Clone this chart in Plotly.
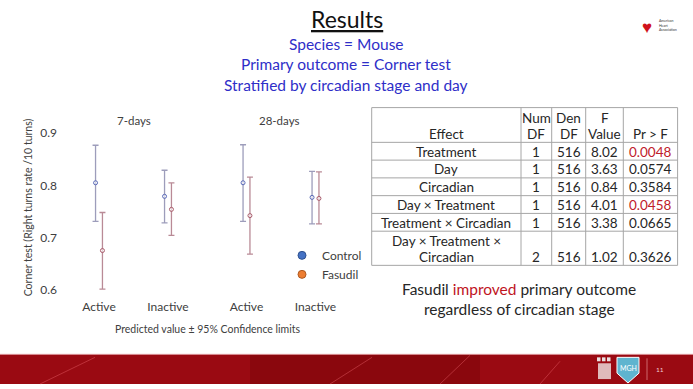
import plotly.graph_objects as go

# ---------------- data ----------------
circadian = ["Active", "Inactive"]
days = ["7-days", "28-days"]

ctrl_mean_7d = [0.805, 0.779]
ctrl_low_7d = [0.731, 0.728]
ctrl_high_7d = [0.877, 0.829]
fas_mean_7d = [0.675, 0.754]
fas_low_7d = [0.601, 0.704]
fas_high_7d = [0.748, 0.805]

ctrl_mean_28d = [0.805, 0.777]
ctrl_low_28d = [0.731, 0.726]
ctrl_high_28d = [0.878, 0.827]
fas_mean_28d = [0.742, 0.775]
fas_low_28d = [0.668, 0.726]
fas_high_28d = [0.816, 0.826]

y_ticks = [0.6, 0.7, 0.8, 0.9]

effects = ["Treatment", "Day", "Circadian", "Day × Treatment",
           "Treatment × Circadian", "Day × Treatment ×<br>Circadian"]
num_df = [1, 1, 1, 1, 1, 2]
den_df = [516, 516, 516, 516, 516, 516]
f_value = ["8.02", "3.63", "0.84", "4.01", "3.38", "1.02"]
p_value = ["0.0048", "0.0574", "0.3584", "0.0458", "0.0665", "0.3626"]
header_labels = ["Effect", "Num<br>DF", "Den<br>DF", "F<br>Value", "Pr > F"]

# ---------------- helpers ----------------
W, H = 693, 389
FONT = "Lato"
def px(x):
    return x / W
def py(y):
    return 1 - y / H

fig = go.Figure()

ctrl_bar = "#9d9dbb"
fas_bar = "#b98a96"
ctrl_pt = "#5a6ab8"
fas_pt = "#a85a6a"

groups = [
    ("x", ctrl_mean_7d, ctrl_low_7d, ctrl_high_7d, fas_mean_7d, fas_low_7d, fas_high_7d),
    ("x2", ctrl_mean_28d, ctrl_low_28d, ctrl_high_28d, fas_mean_28d, fas_low_28d, fas_high_28d),
]
for xa, cm, cl, ch, fm, fl, fh in groups:
    for name, m, lo, hi, bc, pc in [("Control", cm, cl, ch, ctrl_bar, ctrl_pt),
                                    ("Fasudil", fm, fl, fh, fas_bar, fas_pt)]:
        fig.add_trace(go.Scatter(
            x=circadian, y=m, mode="markers", xaxis=xa, yaxis="y",
            offsetgroup=name, name=name, showlegend=False,
            marker=dict(size=4, color="rgba(255,255,255,0.6)", line=dict(color=pc, width=1)),
            error_y=dict(type="data", symmetric=False,
                         array=[h - v for h, v in zip(hi, m)],
                         arrayminus=[v - l for v, l in zip(m, lo)],
                         color=bc, thickness=1.3, width=3),
        ))

# legend entries (on an invisible helper axis so they don't affect grouping)
for name, col, edge in [("Control", "#4472C4", "#2F528F"), ("Fasudil", "#ED7D31", "#AE5A21")]:
    fig.add_trace(go.Scatter(x=[None], y=[None], mode="markers", name=name,
                             xaxis="x3", yaxis="y3",
                             marker=dict(size=8, color=col, line=dict(color=edge, width=1))))

# ---------------- layout ----------------
y_top, y_bot = 124.4, 296.0
y_hi = 0.9 - (y_top - 135) / 528
y_lo = 0.9 - (y_bot - 135) / 528
tickfont = dict(family=FONT, size=12, color="#404040")
xcommon = dict(type="category", anchor="y", showgrid=False, zeroline=False, showline=False,
               ticks="outside", ticklen=3, tickcolor="rgba(0,0,0,0)",
               tickfont=tickfont, range=[-0.5, 1.5])
fig.update_layout(
    width=W, height=H, margin=dict(l=0, r=0, t=0, b=0),
    paper_bgcolor="white", plot_bgcolor="rgba(0,0,0,0)",
    scattermode="group", scattergap=0.8,
    font=dict(family=FONT, color="#404040"),
    xaxis=dict(domain=[px(64.5), px(202.5)], **xcommon),
    xaxis2=dict(domain=[px(212), px(350)], **xcommon),
    yaxis=dict(domain=[py(y_bot), py(y_top)], range=[y_lo, y_hi], anchor="x",
               showgrid=False, zeroline=False, showline=False,
               ticks="outside", ticklen=4, tickcolor="rgba(0,0,0,0)",
               tickvals=y_ticks, tickformat=".1f", tickfont=tickfont,
               title=dict(text="Corner test (Right turns rate /10 turns)",
                          font=dict(family=FONT, size=10.5, color="#404040"),
                          standoff=5)),
    xaxis3=dict(domain=[0, 0.01], visible=False, anchor="y3"),
    yaxis3=dict(domain=[0, 0.01], visible=False, anchor="x3"),
    showlegend=True,
    legend=dict(x=px(282), y=py(244), xanchor="left", yanchor="top",
                font=dict(family=FONT, size=12, color="#404040"),
                bgcolor="rgba(0,0,0,0)", itemwidth=30, tracegroupgap=0),
)

ann = []
shapes = []
def text(x, y, s, size, color="#262626", **kw):
    ann.append(dict(x=px(x), y=py(y), xref="paper", yref="paper", text=s,
                    showarrow=False, font=dict(family=FONT, size=size, color=color),
                    xanchor=kw.pop("xanchor", "center"), yanchor=kw.pop("yanchor", "middle"), **kw))
def hline(x0, x1, y, color="#a6a6a6", width=1):
    shapes.append(dict(type="line", xref="paper", yref="paper", x0=px(x0), x1=px(x1),
                       y0=py(y), y1=py(y), line=dict(color=color, width=width)))
def vline(x, y0, y1, color="#a6a6a6", width=1):
    shapes.append(dict(type="line", xref="paper", yref="paper", x0=px(x), x1=px(x),
                       y0=py(y0), y1=py(y1), line=dict(color=color, width=width)))

# ---------------- table (drawn from the arrays) ----------------
col_w = [149.3, 30.7, 34, 37.6, 54.3]
tab_x0, tab_y0 = 371.7, 109
line_h = 16.6
row_h1 = 18.0
col_x = [tab_x0]
for w in col_w:
    col_x.append(col_x[-1] + w)
n_lines = [e.count("<br>") + 1 for e in effects]
row_heights = [2 * line_h + 2] + [row_h1 + (n - 1) * line_h for n in n_lines]
row_y = [tab_y0]
for h in row_heights:
    row_y.append(row_y[-1] + h)
TF = 13.5
TC = "#262626"
# header (bottom aligned)
for j, lab in enumerate(header_labels):
    cx = (col_x[j] + col_x[j + 1]) / 2
    lines = lab.split("<br>")
    for k, ln in enumerate(reversed(lines)):
        text(cx, row_y[1] - row_h1 / 2 - k * line_h + 0.5, ln, TF, TC)
# body
columns = [effects, [str(v) for v in num_df], [str(v) for v in den_df], f_value, p_value]
for i in range(len(effects)):
    bot = row_y[i + 2]
    for j, col in enumerate(columns):
        cx = (col_x[j] + col_x[j + 1]) / 2
        color = TC
        if j == 4 and float(p_value[i]) < 0.05:
            color = "#C0202A"
        lines = col[i].split("<br>")
        for k, ln in enumerate(reversed(lines)):
            text(cx, bot - row_h1 / 2 - k * line_h + 0.5, ln, TF, color)
# grid lines
for y in row_y:
    hline(col_x[0], col_x[-1], y)
for x in col_x:
    vline(x, row_y[0], row_y[-1])

# ---------------- other texts ----------------
text(133.5, 122, days[0], 11.5, "#404040")
text(279, 122, days[1], 11.5, "#404040")
text(208, 333, "Predicted value ± 95% Confidence limits", 10.5, "#404040")

blue = "#2E2EC8"
text(347, 19, "<u>Results</u>", 23, "#111111")
text(346, 45, "Species = Mouse", 15.5, blue)
text(346, 65, "Primary outcome = Corner test", 15.5, blue)
text(346, 86, "Stratified by circadian stage and day", 15.5, blue)

text(519, 293, "Fasudil <span style='color:#C0141E'>improved</span> primary outcome", 15.5, TC)
text(519, 313, "regardless of circadian stage", 15.5, TC)

# AHA logo
text(647, 27, "♥", 17, "#D0121C")
text(657, 26, "American<br>Heart<br>Association", 3.5, "#333333", xanchor="left", align="left")

# footer
text(660, 374, "11", 6.5, "#f0d0d0")
text(628, 373, "MGH", 7, "white")

shapes.insert(0, dict(type="rect", xref="paper", yref="paper", x0=0, x1=1, y0=0, y1=py(359),
                      fillcolor="#9A0A12", line=dict(width=0), layer="below"))
shapes.insert(1, dict(type="rect", xref="paper", yref="paper", x0=px(250), x1=px(480), y0=0, y1=py(359),
                      fillcolor="rgba(90,0,0,0.25)", line=dict(width=0), layer="below"))
hline(0, W, 359, color="#d88a8f")
for (x0, y0, x1, y1) in [(40, 389, 95, 362), (330, 389, 372, 362), (440, 389, 470, 360), (540, 389, 560, 366)]:
    shapes.append(dict(type="line", xref="paper", yref="paper", x0=px(x0), y0=py(y0), x1=px(x1), y1=py(y1),
                       line=dict(color="rgba(255,120,130,0.35)", width=1)))
pts = [(617, 362), (639, 362), (639, 378), (628, 388), (617, 378)]
path = "M " + " L ".join(f"{px(a):.5f},{py(b):.5f}" for a, b in pts) + " Z"
shapes.append(dict(type="path", xref="paper", yref="paper", path=path,
                   fillcolor="#5FB4CF", line=dict(color="white", width=1)))
shapes.append(dict(type="rect", xref="paper", yref="paper", x0=px(598), x1=px(611), y0=py(384), y1=py(368),
                   fillcolor="rgba(240,230,230,0.8)", line=dict(width=0)))
for i in range(3):
    shapes.append(dict(type="rect", xref="paper", yref="paper", x0=px(597 + i * 5), x1=px(600.5 + i * 5),
                       y0=py(366), y1=py(362), fillcolor="#e8e0e0", line=dict(width=0)))
vline(647, 385, 363, color="rgba(255,200,200,0.5)")

fig.update_layout(annotations=ann, shapes=shapes)
fig.write_html("out.html")
